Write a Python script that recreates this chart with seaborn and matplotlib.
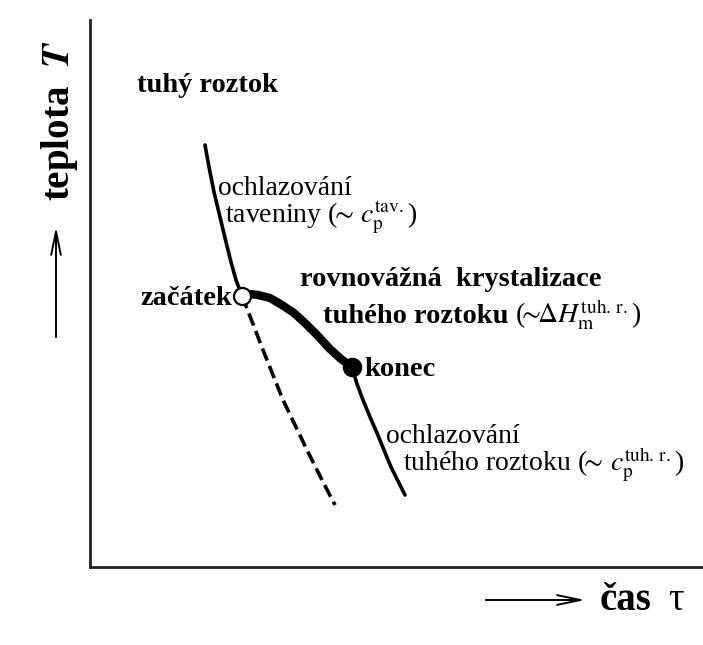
import pandas as pd
import seaborn as sns
import matplotlib
matplotlib.use("Agg")
import matplotlib.pyplot as plt
from matplotlib.patches import FancyArrowPatch

# Cooling curve of a solid solution (arbitrary units)
melt_t = [115, 119, 124, 130, 136, 141, 146, 152]
melt_T = [422, 400, 375, 350, 325, 305, 287, 271]

cryst_t = [152, 160, 168, 180, 192, 204, 216, 228, 240, 251, 262]
cryst_T = [271, 273, 272, 269, 262, 254, 243, 231, 218, 208, 200]

solid_t = [262, 267, 273, 280, 287, 294, 301, 308, 315]
solid_T = [200, 183, 167, 150, 134, 117, 100, 86, 72]

dash_t = [152, 163, 173, 183, 193, 205, 217, 232, 245]
dash_T = [271, 243, 217, 192, 167, 142, 117, 87, 62]

start_pt = (152, 271)
end_pt = (262, 200)

sns.set_style("white")
plt.rcParams["font.family"] = ["Liberation Serif", "DejaVu Serif"]
plt.rcParams["mathtext.fontset"] = "stix"
plt.rcParams["text.color"] = "black"

W, H = 703, 645
fig = plt.figure(figsize=(W / 100, H / 100), dpi=100)
# axes placed so one data unit = one pixel
ax = fig.add_axes([90 / W, (H - 567) / H, 613 / W, 547 / H])
ax.set_xlim(0, 613)
ax.set_ylim(0, 547)

melt = pd.DataFrame({"t": melt_t, "T": melt_T})
cryst = pd.DataFrame({"t": cryst_t, "T": cryst_T})
solid = pd.DataFrame({"t": solid_t, "T": solid_T})
dash = pd.DataFrame({"t": dash_t, "T": dash_T})

sns.lineplot(data=melt, x="t", y="T", sort=False, estimator=None,
             color="black", linewidth=2.6, ax=ax)
sns.lineplot(data=dash, x="t", y="T", sort=False, estimator=None,
             color="black", linewidth=2.6, linestyle=(0, (3.6, 1.6)), ax=ax)
sns.lineplot(data=solid, x="t", y="T", sort=False, estimator=None,
             color="black", linewidth=2.6, ax=ax)
sns.lineplot(data=cryst, x="t", y="T", sort=False, estimator=None,
             color="black", linewidth=6, solid_capstyle="round", ax=ax)

pts = pd.DataFrame({"t": [start_pt[0], end_pt[0]], "T": [start_pt[1], end_pt[1]]})
sns.scatterplot(data=pts.iloc[[0]], x="t", y="T", s=150, color="white",
                edgecolor="black", linewidth=1.6, zorder=5, ax=ax)
sns.scatterplot(data=pts.iloc[[1]], x="t", y="T", s=170, color="black",
                edgecolor="black", linewidth=1, zorder=5, ax=ax)

ax.set_xticks([])
ax.set_yticks([])
ax.set_xlabel("")
ax.set_ylabel("")
sns.despine(ax=ax)
for s in ["left", "bottom"]:
    ax.spines[s].set_color("#222222")
    ax.spines[s].set_linewidth(2)


def txt(px, py, s, **kw):
    ax.text(px - 90, 567 - py, s, va="baseline", ha=kw.pop("ha", "left"),
            clip_on=False, **kw)


reg = 20
bold = 20.5
txt(137, 92, "tuhý roztok", fontsize=bold, fontweight="bold")
txt(218, 195, "ochlazování", fontsize=reg)
txt(225, 223, r"taveniny ($\!\!\sim\, c_{\mathrm{p}}^{\mathrm{tav.}}$)", fontsize=reg)
txt(232, 305, "začátek", fontsize=bold, fontweight="bold", ha="right")
txt(300, 286, "rovnovážná  krystalizace", fontsize=bold, fontweight="bold")
txt(323, 323, "tuhého roztoku", fontsize=bold, fontweight="bold")
txt(515, 323, r"($\!\!\sim\!\!\Delta H_{\mathrm{m}}^{\mathrm{tuh.\,r.}}$)", fontsize=reg)
txt(364, 376, "konec", fontsize=bold, fontweight="bold")
txt(386, 443, "ochlazování", fontsize=reg)
txt(403, 471, r"tuhého roztoku ($\!\!\sim\, c_{\mathrm{p}}^{\mathrm{tuh.\,r.}}$)", fontsize=reg)

# axis captions with arrows outside the axes
fig.text(600 / W, 1 - 610 / H, "čas", fontsize=28, fontweight="bold",
         va="baseline", ha="left")
fig.text(668 / W, 1 - 610 / H, "τ", fontsize=28, va="baseline", ha="left")
fig.text(60 / W, 1 - 120 / H, r"teplota  $\mathbfit{T}$", fontsize=28,
         fontweight="bold", rotation=90, va="center", ha="center")

style = "->,head_length=1.2,head_width=0.25"
fig.add_artist(FancyArrowPatch(
    (483 / W, 1 - 600 / H), (588 / W, 1 - 600 / H), transform=fig.transFigure,
    arrowstyle=style, color="black", lw=1.4, mutation_scale=14))
fig.add_artist(FancyArrowPatch(
    (56 / W, 1 - 340 / H), (56 / W, 1 - 224 / H), transform=fig.transFigure,
    arrowstyle=style, color="black", lw=1.4, mutation_scale=14))

fig.savefig("out.png", dpi=100)
